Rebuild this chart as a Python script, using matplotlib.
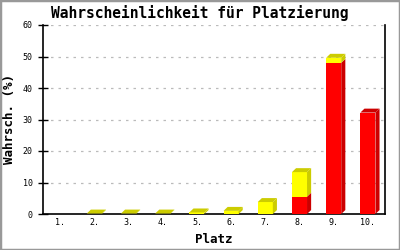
import matplotlib
matplotlib.use('Agg')
import matplotlib.pyplot as plt
from matplotlib.patches import Polygon, Rectangle
import numpy as np

plt.rcParams['font.family'] = ['DejaVu Sans Mono']

plaetze = ['1.', '2.', '3.', '4.', '5.', '6.', '7.', '8.', '9.', '10.']
rot = [0, 0, 0, 0, 0, 0, 0, 5.5, 48.0, 32.2]
gelb = [0, 0.15, 0.15, 0.15, 0.5, 1.0, 3.8, 7.8, 1.6, 0]
yticks = [0, 10, 20, 30, 40, 50, 60]

fig = plt.figure(figsize=(4, 2.5), dpi=100)
fig.patch.set_facecolor('white')
fig.add_artist(Rectangle((0, 0), 1, 1, transform=fig.transFigure, fill=False,
                         edgecolor='#999999', linewidth=2.5))

ax = fig.add_axes([0.1075, 0.144, 0.855, 0.756])
x = np.arange(len(plaetze))
w = 0.44
dx, dy = 0.12, 1.25  # Tiefe des 3D-Effekts (ca. 4px)


def bar3d(xc, y0, h, front, dark, top_face):
    if h <= 0:
        return
    l, r = xc - w / 2, xc + w / 2
    ax.add_patch(Rectangle((l, y0), w, h, facecolor=front, edgecolor='none', zorder=3))
    ax.add_patch(Polygon([(r, y0), (r + dx, y0 + dy), (r + dx, y0 + h + dy), (r, y0 + h)],
                         facecolor=dark, edgecolor='none', zorder=3))
    if top_face:
        ax.add_patch(Polygon([(l, y0 + h), (l + dx, y0 + h + dy), (r + dx, y0 + h + dy), (r, y0 + h)],
                             facecolor=dark, edgecolor='none', zorder=3))


for i in x:
    bar3d(i, 0, rot[i], '#ff0000', '#cc0000', gelb[i] <= 0)
    bar3d(i, rot[i], gelb[i], '#ffff00', '#cccc00', True)

ax.set_xlim(-0.5, 9.5)
ax.set_ylim(0, 60)
ax.set_xticks(x)
ax.set_xticklabels(plaetze, fontsize=6)
ax.set_yticks(yticks)
ax.set_yticklabels([str(t) for t in yticks], fontsize=6)
ax.tick_params(axis='x', length=0, pad=3)
ax.tick_params(axis='y', direction='inout', length=7, width=1, pad=4)
for yv in yticks[1:]:
    ax.axhline(yv, color='#bbbbbb', linestyle=(0, (2, 4)), linewidth=0.9, zorder=1)
ax.spines['top'].set_visible(False)
for s in ['left', 'right', 'bottom']:
    ax.spines[s].set_linewidth(1.2)

fig.text(0.5, 0.948, 'Wahrscheinlichkeit für Platzierung', fontsize=10.5,
         fontweight='bold', ha='center', va='center')
ax.set_xlabel('Platz', fontsize=9, fontweight='bold', labelpad=4)
ax.set_ylabel('Wahrsch. (%)', fontsize=9, fontweight='bold', labelpad=5)

fig.savefig('out.png', dpi=100, facecolor='white')
